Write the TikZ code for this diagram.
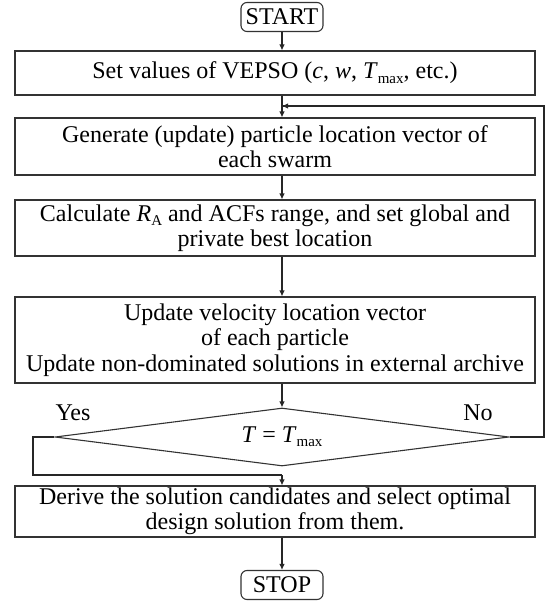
\documentclass[tikz,border=0pt]{standalone}
\usepackage{fontspec}
\setmainfont{Liberation Serif}
\usetikzlibrary{arrows.meta,shapes.geometric}
\newcommand{\sub}[1]{\raisebox{-0.4ex}{\fontsize{15}{15}\selectfont #1}}
\begin{document}
\begin{tikzpicture}[x=1pt,y=-1pt,
  every node/.style={font=\fontsize{24}{25.5}\selectfont},
  ln/.style={draw=black!80,line width=1.1pt},
  procbox/.style={ln,rectangle,minimum width=520pt,align=center,inner sep=0pt},
  termbox/.style={ln,rectangle,rounded corners=6pt,minimum width=82pt,minimum height=29pt,inner sep=0pt},
  decbox/.style={ln,diamond,aspect=8,minimum width=454pt,minimum height=58pt,inner sep=0pt},
  arr/.style={black!85,line width=1.1pt,-{Latex[length=6pt,width=5.5pt]}},
  con/.style={black!85,line width=1.1pt}]
\useasboundingbox (0,0) rectangle (547,602);
\node[termbox] (start) at (282,17) {START};
\node[procbox,minimum height=44pt] (b1) at (275,73) {Set values of VEPSO (\textit{c}, \textit{w}, \textit{T}\sub{max}, etc.)};
\node[procbox,minimum height=57pt] (b2) at (275,146.5) {Generate (update) particle location vector of\\each swarm};
\node[procbox,minimum height=56pt] (b3) at (275,228) {Calculate \textit{R}\sub{A} and ACFs range, and set global and\\private best location};
\node[procbox,minimum height=86pt] (b4) at (275,340) {Update velocity location vector\\of each particle\\Update non-dominated solutions in external archive};
\node[decbox] (d) at (282,437) {\textit{T} = \textit{T}\sub{max}};
\node[procbox,minimum height=51pt] (b5) at (275,511.5) {Derive the solution candidates and select optimal\\design solution from them.};
\node[termbox] (stop) at (282,585) {STOP};
\node (yes) at (73,413) {Yes};
\node (no) at (478,413) {No};
\coordinate (fbr) at (544,437);
\coordinate (fbt) at (544,106);
\coordinate (fbe) at (282,106);
\coordinate (yl) at (33,437);
\coordinate (yb) at (33,475);
\coordinate (ym) at (282,475);
\draw[arr] (start.south) -- (start.south |- b1.north);
\draw[arr] (b1.south -| start) -- (b2.north -| start);
\draw[arr] (b2.south -| start) -- (b3.north -| start);
\draw[arr] (b3.south -| start) -- (b4.north -| start);
\draw[arr] (b4.south -| d.north) -- (d.north);
\draw[con] (d.east) -- (fbr) -- (fbt) -- ([xshift=1pt]fbe);
\draw[arr] (fbt) -- (fbe);
\draw[con] (d.west) -- (yl) -- (yb) -- (ym);
\draw[arr] (ym) -- (b5.north -| ym);
\draw[arr] (b5.south -| stop) -- (stop.north);
\end{tikzpicture}
\end{document}
